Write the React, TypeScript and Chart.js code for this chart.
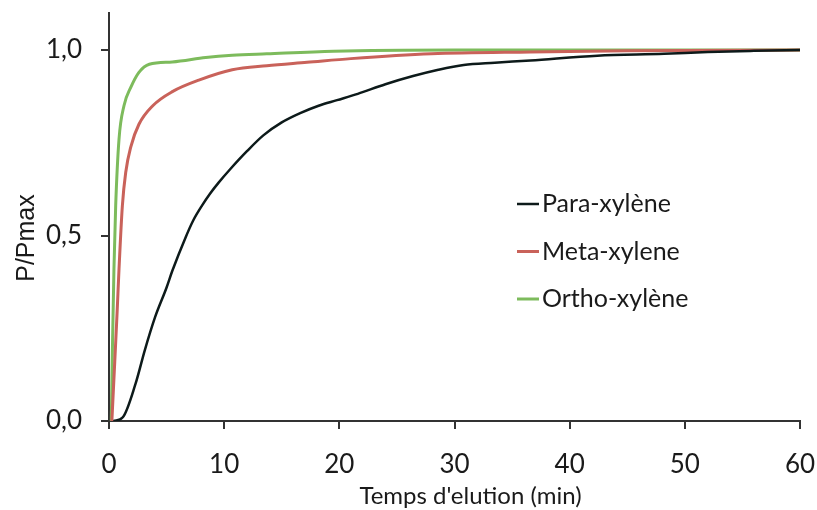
import { useEffect, useRef } from 'react';
import { Chart, registerables } from 'chart.js';

Chart.register(...registerables);

// Para-xylène (black)
const paraTime = [0.4, 1.2, 2.3, 3.1, 4.0, 5.0, 5.5, 6.65, 7.3, 8.1, 8.8, 9.5, 10.5, 12, 13.4, 15, 16.6, 18.2, 19.8, 21.6, 24, 26.4, 28.6, 30.8, 33.5, 36.6, 42.4, 48.2, 52, 56, 60];
const paraValue = [0, 0.01, 0.1, 0.19, 0.28, 0.36, 0.405, 0.495, 0.54, 0.582, 0.614, 0.642, 0.678, 0.728, 0.77, 0.805, 0.83, 0.85, 0.865, 0.882, 0.908, 0.93, 0.947, 0.96, 0.966, 0.972, 0.985, 0.99, 0.995, 0.998, 1.0];

// Meta-xylene (red)
const metaTime = [0.25, 0.5, 0.7, 0.87, 1.16, 1.45, 1.9, 2.6, 3.8, 5.5, 7.8, 10.7, 13.7, 17.2, 21, 28, 36.6, 45, 60];
const metaValue = [0, 0.16, 0.29, 0.41, 0.58, 0.67, 0.74, 0.8, 0.85, 0.888, 0.919, 0.947, 0.958, 0.967, 0.977, 0.99, 0.995, 0.998, 1.0];

// Ortho-xylène (green)
const orthoTime = [0.2, 0.3, 0.43, 0.58, 0.87, 1.3, 1.9, 2.6, 3.5, 5.5, 8.4, 10.7, 13.7, 19.5, 30, 45, 60];
const orthoValue = [0, 0.2, 0.41, 0.58, 0.76, 0.85, 0.9, 0.94, 0.962, 0.968, 0.98, 0.986, 0.99, 0.997, 1.0, 1.0, 1.0];

const seriesLabels = ['Para-xylène', 'Meta-xylene', 'Ortho-xylène'];
const seriesColors = ['#0d1a1a', '#c9625a', '#7dbb5c'];
const seriesWidths = [2.5, 3, 3];

const xTickValues = [0, 10, 20, 30, 40, 50, 60];
const yTickValues = [0, 0.5, 1.0];
const yTickLabels = ['0,0', '0,5', '1,0'];

const xAxisTitle = "Temps d'elution (min)";
const yAxisTitle = 'P/Pmax';

const TEXT = '#1a1a1a';
const AXIS = '#333333';

const zeroPad = (s: any) => {
  s.paddingLeft = 0;
  s.paddingRight = 0;
  s.paddingTop = 0;
  s.paddingBottom = 0;
};

export default function App() {
  const ref = useRef<HTMLCanvasElement>(null);

  useEffect(() => {
    document.body.style.margin = '0';
    const toPts = (t: number[], v: number[]) => t.map((x, i) => ({ x, y: v[i] }));
    const series = [
      toPts(paraTime, paraValue),
      toPts(metaTime, metaValue),
      toPts(orthoTime, orthoValue),
    ];

    const titlesPlugin = {
      id: 'axisTitles',
      afterDraw(chart: any) {
        const { ctx, chartArea } = chart;
        ctx.save();
        ctx.fillStyle = TEXT;
        ctx.textAlign = 'center';
        ctx.textBaseline = 'middle';
        ctx.font = '24px Lato';
        ctx.fillText(xAxisTitle, (chartArea.left + chartArea.right) / 2 + 16, 496);
        ctx.translate(27, 238);
        ctx.rotate(-Math.PI / 2);
        ctx.font = '25px "Liberation Sans"';
        ctx.fillText(yAxisTitle, 0, 0);
        ctx.restore();
      },
    };

    const legendPlugin = {
      id: 'insideLegend',
      afterDraw(chart: any) {
        const { ctx } = chart;
        ctx.save();
        chart.data.datasets.forEach((ds: any, i: number) => {
          const y = 204 + i * 47.5;
          ctx.strokeStyle = ds.borderColor;
          ctx.lineWidth = ds.borderWidth;
          ctx.beginPath();
          ctx.moveTo(517, y);
          ctx.lineTo(539, y);
          ctx.stroke();
          ctx.fillStyle = TEXT;
          ctx.font = '25px Lato';
          ctx.textAlign = 'left';
          ctx.textBaseline = 'middle';
          ctx.fillText(ds.label, 542, y);
        });
        ctx.restore();
      },
    };

    const chart = new Chart(ref.current!, {
      type: 'line',
      data: {
        datasets: series.map((data, i) => ({
          label: seriesLabels[i],
          data,
          borderColor: seriesColors[i],
          backgroundColor: seriesColors[i],
          borderWidth: seriesWidths[i],
          pointRadius: 0,
          fill: false,
          cubicInterpolationMode: 'monotone' as const,
        })),
      },
      options: {
        responsive: false,
        animation: false,
        layout: { padding: { top: 13, right: 17, left: 0, bottom: 0 } },
        plugins: { legend: { display: false }, tooltip: { enabled: false } },
        scales: {
          x: {
            type: 'linear',
            min: 0,
            max: 60,
            afterFit: (s: any) => { s.height = 89; zeroPad(s); },
            afterBuildTicks: (s: any) => { s.ticks = xTickValues.map((v) => ({ value: v })); },
            grid: { drawOnChartArea: false, tickLength: 8, color: AXIS, lineWidth: 2 },
            border: { color: AXIS, width: 2 },
            ticks: { padding: 20, autoSkip: false, maxRotation: 0, color: TEXT, font: { family: 'Lato', size: 26 } },
          },
          y: {
            type: 'linear',
            min: 0,
            max: 1.1,
            afterFit: (s: any) => { s.width = 109; zeroPad(s); },
            afterBuildTicks: (s: any) => { s.ticks = yTickValues.map((v) => ({ value: v })); },
            grid: { drawOnChartArea: false, tickLength: 8, color: AXIS, lineWidth: 2 },
            border: { color: AXIS, width: 2 },
            ticks: {
              padding: 19,
              autoSkip: false,
              color: TEXT,
              font: { family: 'Lato', size: 26 },
              callback: (v: any) => {
                const idx = yTickValues.indexOf(Number(v));
                return idx >= 0 ? yTickLabels[idx] : '';
              },
            },
          },
        },
      },
      plugins: [titlesPlugin, legendPlugin],
    });
    return () => chart.destroy();
  }, []);

  return <canvas ref={ref} width={817} height={510} style={{ display: 'block' }} />;
}
